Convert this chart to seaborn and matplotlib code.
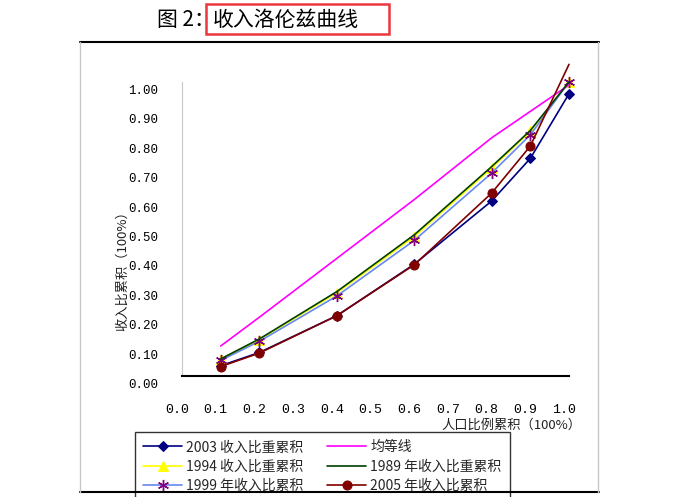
import numpy as np
import pandas as pd
import matplotlib
matplotlib.use("Agg")
import matplotlib.pyplot as plt
import matplotlib.transforms as mtransforms
from matplotlib.lines import Line2D
from matplotlib.patches import Rectangle
import seaborn as sns

# ---------------- data ----------------
pop_share = [0.1, 0.2, 0.4, 0.6, 0.8, 0.9, 1.0]
inc_2003 = [0.035, 0.080, 0.205, 0.380, 0.595, 0.740, 0.960]
inc_1994 = [0.058, 0.124, 0.283, 0.474, 0.707, 0.832, 1.000]
inc_1999 = [0.053, 0.118, 0.272, 0.461, 0.690, 0.820, 1.000]
equality = [0.102, 0.200, 0.400, 0.600, 0.810, 0.900, 0.990]
inc_1989 = [0.058, 0.126, 0.287, 0.480, 0.712, 0.835, 1.000]
inc_2005 = [0.032, 0.078, 0.205, 0.378, 0.622, 0.782, 1.060]

labels = ["2003 收入比重累积", "1994 收入比重累积", "1999 年收入比累积",
          "均等线", "1989 年收入比重累积", "2005 年收入比累积"]
x_ticks = [0.0, 0.1, 0.2, 0.3, 0.4, 0.5, 0.6, 0.7, 0.8, 0.9, 1.0]
x_ticklabels = ["0.0", "0.1", "0.2", "0.3", "0.4", "0.5", "0.6", "0.7", "0.8", "0.9", "1.0"]
y_ticks = [0.0, 0.1, 0.2, 0.3, 0.4, 0.5, 0.6, 0.7, 0.8, 0.9, 1.0]
y_ticklabels = ["0.00", "0.10", "0.20", "0.30", "0.40", "0.50", "0.60", "0.70", "0.80", "0.90", "1.00"]
title_prefix = "图 2："
title_main = "收入洛伦兹曲线"
xlabel = "人口比例累积（100%）"
ylabel = "收入比累积（100%）"

# ---------------- style ----------------
sns.set_theme(style="white")
plt.rcParams["font.family"] = ["Noto Sans CJK SC", "DejaVu Sans"]
plt.rcParams["axes.unicode_minus"] = False

W, H = 686, 497
fig = plt.figure(figsize=(W / 100, H / 100), dpi=100)
fig.patch.set_facecolor("white")

def fx(px):
    return px / W

def fy(py):
    return 1 - py / H

ax = fig.add_axes([fx(182), fy(376), (569 - 182) / W, (376 - 82) / H])
ax.set_facecolor("white")

series = [
    (inc_2003, labels[0], dict(color="#000080", marker="D", markersize=5.5,
                               markerfacecolor="#000080", markeredgecolor="#000080")),
    (inc_1994, labels[1], dict(color="#FFFF00", marker="^", markersize=7,
                               markerfacecolor="#FFFF00", markeredgecolor="#FFFF00")),
    (inc_1999, labels[2], dict(color="#6688EE", marker=(6, 2, 0), markersize=8,
                               markerfacecolor="#800080", markeredgecolor="#800080",
                               markeredgewidth=1.0)),
    (equality, labels[3], dict(color="#FF00FF", marker=None)),
    (inc_1989, labels[4], dict(color="#004000", marker=None)),
    (inc_2005, labels[5], dict(color="#800000", marker="o", markersize=6.5,
                               markerfacecolor="#800000", markeredgecolor="#800000",
                               markevery=[0, 1, 2, 3, 4, 5])),
]

for vals, lab, kw in series:
    df = pd.DataFrame({"x": pop_share, "y": vals})
    sns.lineplot(data=df, x="x", y="y", ax=ax, label=lab, linewidth=1.2,
                 estimator=None, sort=False, clip_on=False, **kw)

ax.set_xlim(0, 1.0)
ax.set_ylim(0, 1.0)
ax.set_xlabel("")
ax.set_ylabel("")

ax.set_xticks(x_ticks)
ax.set_xticklabels(x_ticklabels, fontfamily="Liberation Mono", fontsize=9.5, color="black")
ax.set_yticks(y_ticks)
ax.set_yticklabels(y_ticklabels, fontfamily="Liberation Mono", fontsize=9, color="black")
ax.tick_params(axis="x", direction="in", length=2, width=0.6, color="#555555", pad=20)
ax.tick_params(axis="y", direction="in", length=3, width=0.8, color="black", pad=17)

# label offsets (as in the reference, labels sit slightly off the ticks)
off_y = mtransforms.ScaledTranslation(0, -7.5 / 100, fig.dpi_scale_trans)
for lbl in ax.get_yticklabels():
    lbl.set_transform(lbl.get_transform() + off_y)
off_x = mtransforms.ScaledTranslation(-5 / 100, 0, fig.dpi_scale_trans)
for lbl in ax.get_xticklabels():
    lbl.set_transform(lbl.get_transform() + off_x)

for s in ["top", "right"]:
    ax.spines[s].set_visible(False)
ax.spines["left"].set_color("#c8c8c8")
ax.spines["left"].set_linewidth(0.8)
ax.spines["bottom"].set_color("black")
ax.spines["bottom"].set_linewidth(1.5)

# legend
handles, labs = ax.get_legend_handles_labels()
ax.get_legend().remove()
leg = fig.legend(handles, labs, ncol=2, loc="upper left",
                 bbox_to_anchor=(fx(135), 0, (510 - 135) / W, fy(432)),
                 mode="expand", frameon=True, fancybox=False, borderaxespad=0,
                 handlelength=2.8, handletextpad=0.3, labelspacing=0.37,
                 borderpad=0.6, fontsize=10, columnspacing=1.0)
leg.get_frame().set_edgecolor("black")
leg.get_frame().set_linewidth(1.0)
leg.get_frame().set_facecolor("white")
leg.set_zorder(5)

# axis labels
fig.text(fx(122), fy(268), ylabel, rotation=90, ha="center", va="center",
         fontsize=9.5, color="#222222")
fig.text(fx(581), fy(425), xlabel, ha="right", va="center",
         fontsize=9.5, color="#222222")

# title
fig.text(fx(157), fy(20), title_prefix, ha="left", va="center", fontsize=15, color="black")
fig.text(fx(213), fy(20), title_main, ha="left", va="center", fontsize=15, color="black")
fig.add_artist(Rectangle((fx(206), fy(34)), (389 - 206) / W, (34 - 4) / H,
                         transform=fig.transFigure, fill=False,
                         edgecolor="#e8383d", linewidth=1.8))

# outer frame
fig.add_artist(Line2D([fx(80), fx(599)], [fy(42), fy(42)], transform=fig.transFigure,
                      color="black", linewidth=1.5, zorder=10))
fig.add_artist(Line2D([fx(80), fx(599)], [fy(491.5), fy(491.5)], transform=fig.transFigure,
                      color="black", linewidth=1.5, zorder=10))
fig.add_artist(Line2D([fx(80), fx(80)], [fy(42), fy(491.5)], transform=fig.transFigure,
                      color="#c8c8c8", linewidth=1.0, zorder=10))
fig.add_artist(Line2D([fx(598), fx(598)], [fy(42), fy(491.5)], transform=fig.transFigure,
                      color="#c8c8c8", linewidth=1.0, zorder=10))

fig.savefig("out.png", dpi=100, facecolor="white")
